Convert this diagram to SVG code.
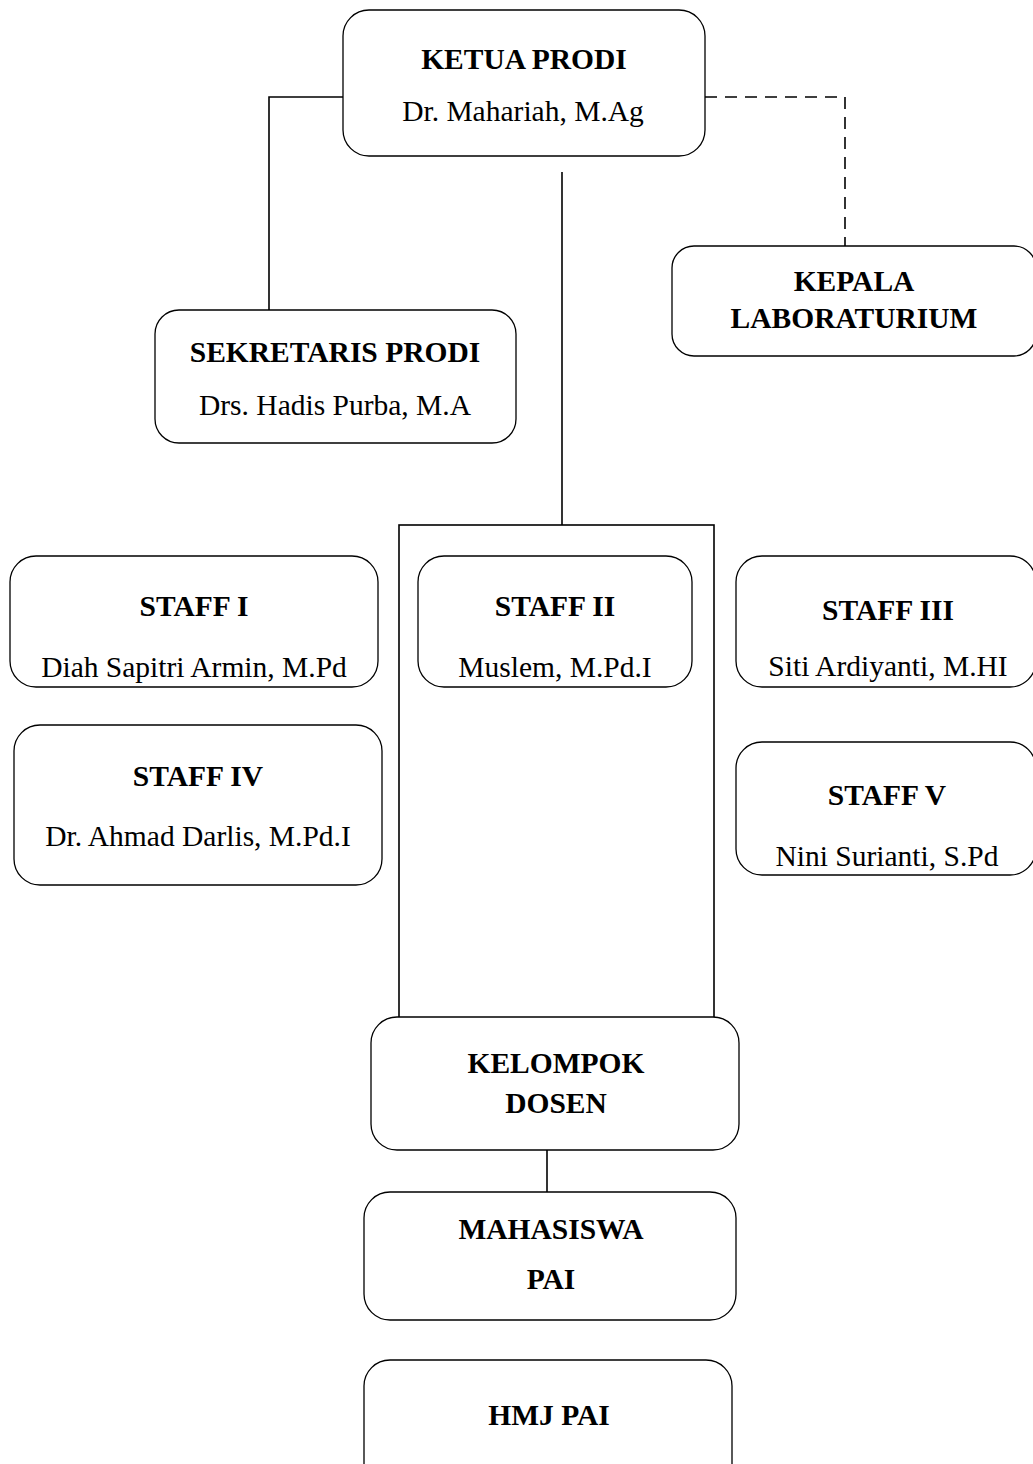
<svg xmlns="http://www.w3.org/2000/svg" width="1033" height="1464" viewBox="0 0 1033 1464">
<style>
.box{fill:#fff;stroke:#000;stroke-width:1.3}
.t{font-family:"Liberation Serif","Times New Roman",serif;font-size:29.5px;text-anchor:middle;fill:#000}
.b{font-weight:bold}
.ln{fill:none;stroke:#000;stroke-width:1.6}
.dash{stroke-dasharray:12,8}
</style>
<rect width="1033" height="1464" fill="#fff"/>
<g id="connectors">
<polyline class="ln" points="343,97 269,97 269,310"/>
<polyline class="ln dash" points="705,97 845,97 845,246"/>
<line class="ln" x1="562" y1="172" x2="562" y2="525"/>
<rect class="ln" x="399" y="525" width="315" height="493"/>
<line class="ln" x1="547" y1="1150" x2="547" y2="1192"/>
</g>
<g id="ketua">
<rect class="box" x="343" y="10" width="362" height="146" rx="26"/>
<text class="t b" x="524" y="69">KETUA PRODI</text>
<text class="t" x="523" y="121">Dr. Mahariah, M.Ag</text>
</g>
<g id="sekretaris">
<rect class="box" x="155" y="310" width="361" height="133" rx="24"/>
<text class="t b" x="335" y="362">SEKRETARIS PRODI</text>
<text class="t" x="335" y="415">Drs. Hadis Purba, M.A</text>
</g>
<g id="kepala-lab">
<rect class="box" x="672" y="246" width="364" height="110" rx="22"/>
<text class="t b" x="854" y="291">KEPALA</text>
<text class="t b" x="854" y="328">LABORATURIUM</text>
</g>
<g id="staff1">
<rect class="box" x="10" y="556" width="368" height="131" rx="26"/>
<text class="t b" x="194" y="616">STAFF I</text>
<text class="t" x="194" y="677">Diah Sapitri Armin, M.Pd</text>
</g>
<g id="staff2">
<rect class="box" x="418" y="556" width="274" height="131" rx="26"/>
<text class="t b" x="555" y="616">STAFF II</text>
<text class="t" x="555" y="677">Muslem, M.Pd.I</text>
</g>
<g id="staff3">
<rect class="box" x="736" y="556" width="300" height="131" rx="26"/>
<text class="t b" x="888" y="620">STAFF III</text>
<text class="t" x="888" y="676">Siti Ardiyanti, M.HI</text>
</g>
<g id="staff4">
<rect class="box" x="14" y="725" width="368" height="160" rx="26"/>
<text class="t b" x="198" y="786">STAFF IV</text>
<text class="t" x="198" y="846">Dr. Ahmad Darlis, M.Pd.I</text>
</g>
<g id="staff5">
<rect class="box" x="736" y="742" width="300" height="133" rx="26"/>
<text class="t b" x="887" y="805">STAFF V</text>
<text class="t" x="887" y="866">Nini Surianti, S.Pd</text>
</g>
<g id="kelompok-dosen">
<rect class="box" x="371" y="1017" width="368" height="133" rx="26"/>
<text class="t b" x="556" y="1073">KELOMPOK</text>
<text class="t b" x="556" y="1113">DOSEN</text>
</g>
<g id="mahasiswa">
<rect class="box" x="364" y="1192" width="372" height="128" rx="26"/>
<text class="t b" x="551" y="1239">MAHASISWA</text>
<text class="t b" x="551" y="1289">PAI</text>
</g>
<g id="hmj">
<rect class="box" x="364" y="1360" width="368" height="130" rx="26"/>
<text class="t b" x="549" y="1425">HMJ PAI</text>
</g>
</svg>
